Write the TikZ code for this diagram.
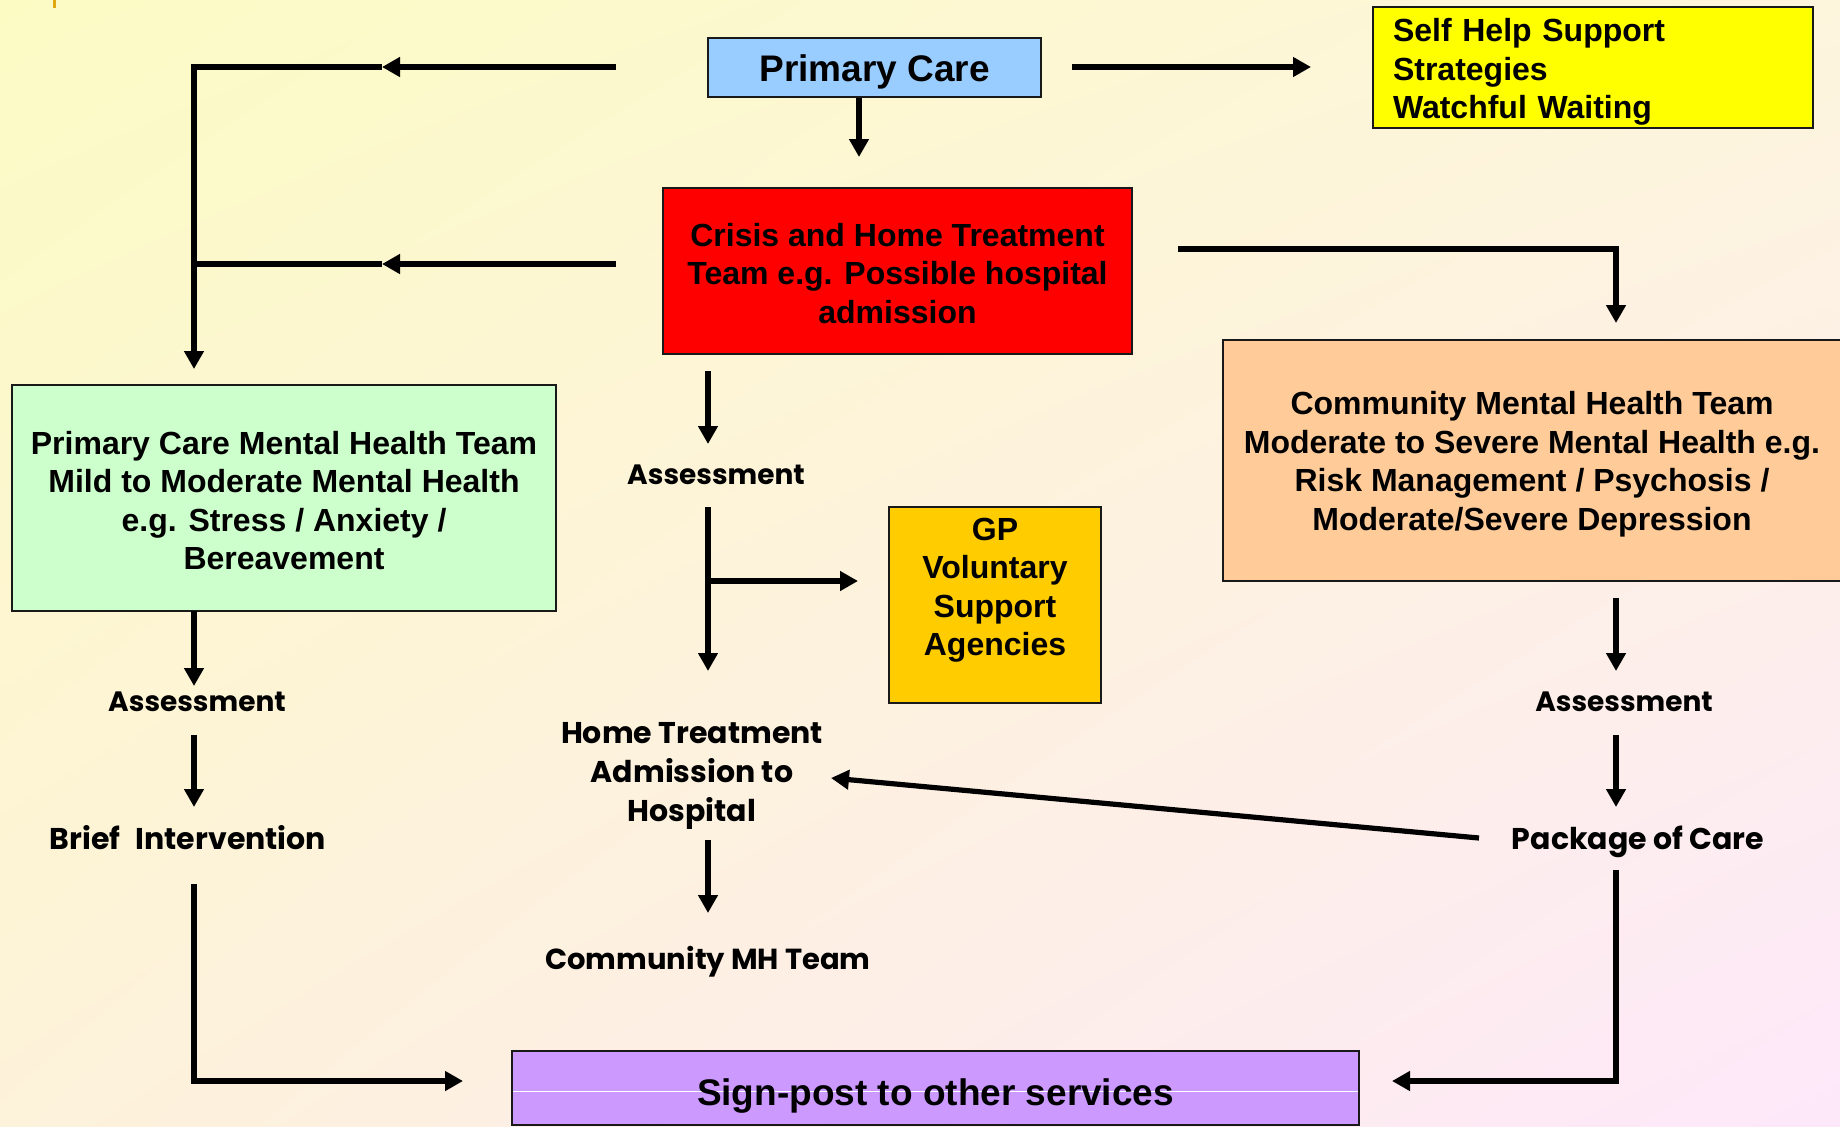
\documentclass[tikz,border=0pt]{standalone}
\usepackage{fontspec}
\setmainfont{Liberation Sans}
\newfontfamily\handfont{Poppins}
\usetikzlibrary{arrows.meta,shadings}
\definecolor{bgTL}{HTML}{FCFBC4}
\definecolor{bgTR}{HTML}{FDF5DC}
\definecolor{bgBL}{HTML}{FDF2DA}
\definecolor{bgBR}{HTML}{FDE8FA}
\definecolor{pcblue}{HTML}{99CCFF}
\definecolor{shyellow}{HTML}{FFFF00}
\definecolor{crisisred}{HTML}{FF0000}
\definecolor{pgreen}{HTML}{CCFFCC}
\definecolor{porange}{HTML}{FFCC99}
\definecolor{gpgold}{HTML}{FFCC00}
\definecolor{spurple}{HTML}{CC99FF}
\definecolor{tickorange}{HTML}{E0A810}
\begin{document}
\begin{tikzpicture}[x=0.5pt,y=-0.5pt,
  box/.style={draw=black!90, line width=1pt, inner sep=0pt},
  btext/.style={inner sep=0pt, align=center,
    font=\bfseries\fontsize{16}{19.25}\selectfont},
  bigtext/.style={btext, font=\bfseries\fontsize{18.5}{22}\selectfont},
  hand/.style={align=center, inner sep=0pt,
    font=\handfont\bfseries\fontsize{15}{19.5}\selectfont},
  ln/.style={line width=2.6pt, line join=miter},
  arr/.style={ln, -{Triangle[length=9pt,width=9.5pt]}},
]
\useasboundingbox (0,0) rectangle (1840,1126);
\shade[upper left=bgTL, upper right=bgTR, lower left=bgBL, lower right=bgBR]
  (0,0) rectangle (1840,1126);
\draw[tickorange, line width=1.5pt] (54,0) -- (54,8);

% boxes
\node[box, fill=pcblue, minimum width=166.5pt, minimum height=29.5pt] (pc) at (874.5,67.5) {};
\node[bigtext] (pcT) at ([yshift=-2.35pt]pc.center) {Primary Care};

\node[box, fill=shyellow, minimum width=220pt, minimum height=60.5pt] (self) at (1593,67.5) {};
\node[btext, text width=200pt, align=left] (selfT) at ([yshift=-2.35pt]self.center)
  {Self Help Support\\Strategies\\Watchful Waiting};

\node[box, fill=crisisred, minimum width=234.5pt, minimum height=83pt] (crisis) at (897.5,271) {};
\node[btext] (crisisT) at ([yshift=-1.2pt]crisis.center)
  {Crisis and Home Treatment\\Team e.g. Possible hospital\\admission};

\node[box, fill=pgreen, minimum width=272pt, minimum height=113pt] (pcmh) at (284,498) {};
\node[btext] (pcmhT) at ([yshift=-1.2pt]pcmh.center)
  {Primary Care Mental Health Team\\Mild to Moderate Mental Health\\e.g. Stress / Anxiety /\\Bereavement};

\node[box, fill=porange, minimum width=309pt, minimum height=120.5pt] (cmht) at (1532,460.5) {};
\node[btext] (cmhtT) at ([yshift=-1.75pt]cmht.center)
  {Community Mental Health Team\\Moderate to Severe Mental Health e.g.\\Risk Management / Psychosis /\\Moderate/Severe Depression};

\node[box, fill=gpgold, minimum width=106pt, minimum height=98pt] (gp) at (995,605) {};
\node[btext] (gpT) at ([yshift=7.5pt]gp.center) {GP\\Voluntary\\Support\\Agencies};

\node[box, fill=spurple, minimum width=423.5pt, minimum height=37pt,
  path picture={\draw[white, line width=0.5pt] ([yshift=-1.5pt]path picture bounding box.west) -- ([yshift=-1.5pt]path picture bounding box.east);}]
  (sp) at (935.5,1088) {};
\node[bigtext] (spT) at ([yshift=-4.1pt]sp.center) {Sign-post to other services};

% hand-written labels
\node[hand, font=\handfont\bfseries\fontsize{14}{19.5}\selectfont] (asC) at (716,475) {Assessment};
\node[hand] (home) at (692,776) {Home Treatment\\Admission to\\Hospital};
\node[hand, font=\handfont\bfseries\fontsize{14.5}{19.5}\selectfont] (cmh) at (708,962) {Community MH Team};
\node[hand, font=\handfont\bfseries\fontsize{14}{19.5}\selectfont] (asL) at (197,702) {Assessment};
\node[hand] (brief) at (188,838) {Brief\hspace{0.5em}Intervention};
\node[hand, font=\handfont\bfseries\fontsize{14}{19.5}\selectfont] (asR) at (1624,702) {Assessment};
\node[hand] (pkg) at (1638,841.5) {Package of Care};

% junction coordinates
\coordinate (jTop) at (194,67);
\coordinate (mTop) at (382,67);
\coordinate (jMid) at (194,264);
\coordinate (mMid) at (382,264);
\coordinate (cR) at (1616,249);
\coordinate (cD1) at (708,371);
\coordinate (cD2) at (708,444);
\coordinate (hA1) at (708,507);
\coordinate (hA2) at (708,671);
\coordinate (hB) at (708,581);
\coordinate (hC1) at (708,840);
\coordinate (hC2) at (708,913);
\coordinate (lA1) at (194,611);
\coordinate (lA2) at (194,686);
\coordinate (lB1) at (194,735);
\coordinate (lB2) at (194,807);
\coordinate (lC1) at (194,884);
\coordinate (lC2) at (194,1081);
\coordinate (rA1) at (1616,598);
\coordinate (rA2) at (1616,671);
\coordinate (rB1) at (1616,735);
\coordinate (rB2) at (1616,807);
\coordinate (rC1) at (1616,870);
\coordinate (rC2) at (1616,1081);
\coordinate (pkgW) at (1479,838);
\coordinate (homeE) at (831,778);

% connectors
\draw[arr] ([xshift=-45.5pt,yshift=0.25pt]pc.west) -- (mTop);
\draw[arr] (mTop) -- (jTop) -- ([yshift=7.5pt]jTop |- pcmh.north);
\draw[arr] ([xshift=-23pt,yshift=3.5pt]crisis.west) -- (mMid);
\draw[ln] (mMid) -- (jMid);
\draw[arr] ([xshift=15pt,yshift=0.25pt]pc.east) -- ([xshift=-30.5pt,yshift=0.25pt]self.west);
\draw[arr] ([xshift=-7.75pt]pc.south) -- ++(0,59);
\draw[arr] ([xshift=22.5pt,yshift=11pt]crisis.east) -- (cR) -- ([yshift=8pt]cR |- cmht.north);
\draw[arr] (cD1) -- (cD2);
\draw[arr] (hA1) -- (hA2);
\draw[arr] (hB) -- ([xshift=-15pt]hB -| gp.west);
\draw[arr] (hC1) -- (hC2);
\draw[arr] (lA1) -- (lA2);
\draw[arr] (lB1) -- (lB2);
\draw[arr] (lC1) -- (lC2) -- ([xshift=-24pt]lC2 -| sp.west);
\draw[arr] (rA1) -- (rA2);
\draw[arr] (rB1) -- (rB2);
\draw[arr] (rC1) -- (rC2) -- ([xshift=16pt]rC2 -| sp.east);
\draw[arr] (pkgW) -- (homeE);
\end{tikzpicture}
\end{document}
